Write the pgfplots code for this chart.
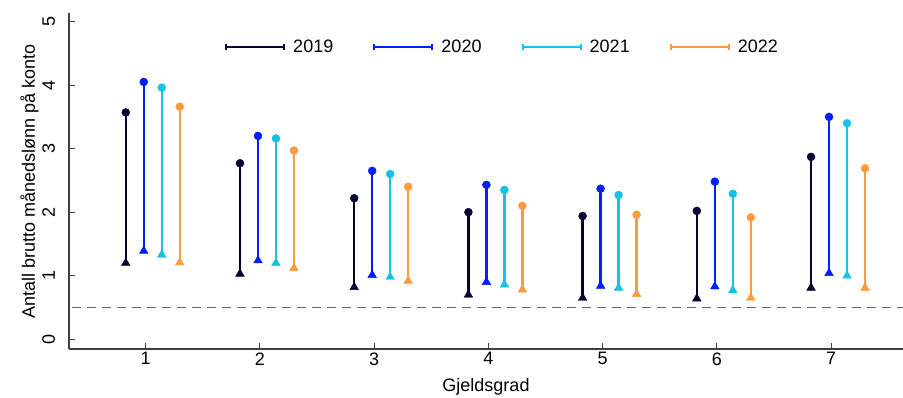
\documentclass[border=0pt]{standalone}
\usepackage{pgfplots}
\pgfplotsset{compat=1.18}
\usepackage{pgfplotstable}
\usepackage{fontspec}
\setmainfont{Liberation Sans}

\definecolor{cA}{RGB}{5,5,50}
\definecolor{cB}{RGB}{0,30,255}
\definecolor{cC}{RGB}{20,195,230}
\definecolor{cD}{RGB}{255,155,60}
\definecolor{axgray}{RGB}{64,64,64}
\definecolor{dashgray}{RGB}{100,100,100}

\pgfplotstableread{
g lo hi
1 1.20 3.57
2 1.03 2.77
3 0.82 2.22
4 0.70 2.00
5 0.65 1.94
6 0.64 2.02
7 0.81 2.87
}\tabA
\pgfplotstableread{
g lo hi
1 1.39 4.05
2 1.24 3.20
3 1.01 2.65
4 0.90 2.43
5 0.84 2.37
6 0.83 2.48
7 1.04 3.50
}\tabB
\pgfplotstableread{
g lo hi
1 1.33 3.96
2 1.20 3.16
3 0.98 2.60
4 0.86 2.35
5 0.81 2.27
6 0.77 2.29
7 1.00 3.40
}\tabC
\pgfplotstableread{
g lo hi
1 1.21 3.66
2 1.12 2.97
3 0.92 2.40
4 0.78 2.10
5 0.71 1.96
6 0.65 1.92
7 0.81 2.69
}\tabD

\begin{document}
\begin{tikzpicture}[x=1pt,y=1pt]
\useasboundingbox (0,0) rectangle (903,398);
\begin{axis}[
  at={(69pt,49pt)}, anchor=south west,
  scale only axis, width=834pt, height=335.7pt,
  xmin=0.328, xmax=7.63, ymin=-0.153, ymax=5.13,
  axis x line*=bottom, axis y line*=left,
  axis line style={-, draw=axgray, line width=1.2pt},
  xtick={1,2,3,4,5,6,7}, ytick={0,1,2,3,4,5},
  tick align=inside, major tick length=6pt,
  tick style={draw=axgray, line width=1pt},
  xtick pos=bottom, ytick pos=left,
  font=\fontsize{18}{21.6}\selectfont,
  /pgf/number format/assume math mode=true,
  yticklabel style={xshift=-14pt, rotate=90, anchor=base, inner sep=0pt},
  xlabel={Gjeldsgrad},
  xlabel style={at={(axis description cs:0.5,0)}, anchor=base, yshift=-43pt, inner sep=0pt},
  ylabel={Antall brutto månedslønn på konto},
  ylabel style={at={(axis description cs:-0.0408,0.5)}, anchor=base, inner sep=0pt},
  legend columns=4,
  legend style={at={(axis description cs:0.1871,0.8996)}, anchor=west,
    draw=none, fill=none, inner sep=0pt, outer sep=0pt,
    nodes={inner sep=0pt},
    /tikz/every odd column/.append style={column sep=8pt},
    /tikz/every even column/.append style={column sep=40pt}},
  legend image code/.code={
    \draw[#1, line width=2.2pt] (0pt,0pt) -- (58pt,0pt);
    \draw[#1, line width=1.8pt] (0pt,-2.8pt) -- (0pt,2.8pt);
    \draw[#1, line width=1.8pt] (58pt,-2.8pt) -- (58pt,2.8pt);
  },
]
\addplot[forget plot, draw=dashgray, line width=1.5pt, dash pattern=on 9pt off 6pt] coordinates {(0.354,0.5) (7.63,0.5)};

\addplot[forget plot, only marks, mark=*, mark size=4pt, color=cA,
  error bars/.cd, y dir=minus, y explicit, error mark=none,
  error bar style={line width=2.4pt, color=cA}]
  table[x expr=\thisrow{g}-0.175, y=hi, y error minus expr=\thisrow{hi}-\thisrow{lo}] {\tabA};
\addplot[forget plot, only marks, mark=triangle*, mark size=5pt, color=cA]
  table[x expr=\thisrow{g}-0.175, y=lo] {\tabA};

\addplot[forget plot, only marks, mark=*, mark size=4pt, color=cB,
  error bars/.cd, y dir=minus, y explicit, error mark=none,
  error bar style={line width=2.4pt, color=cB}]
  table[x expr=\thisrow{g}-0.0175, y=hi, y error minus expr=\thisrow{hi}-\thisrow{lo}] {\tabB};
\addplot[forget plot, only marks, mark=triangle*, mark size=5pt, color=cB]
  table[x expr=\thisrow{g}-0.0175, y=lo] {\tabB};

\addplot[forget plot, only marks, mark=*, mark size=4pt, color=cC,
  error bars/.cd, y dir=minus, y explicit, error mark=none,
  error bar style={line width=2.4pt, color=cC}]
  table[x expr=\thisrow{g}+0.14, y=hi, y error minus expr=\thisrow{hi}-\thisrow{lo}] {\tabC};
\addplot[forget plot, only marks, mark=triangle*, mark size=5pt, color=cC]
  table[x expr=\thisrow{g}+0.14, y=lo] {\tabC};

\addplot[forget plot, only marks, mark=*, mark size=4pt, color=cD,
  error bars/.cd, y dir=minus, y explicit, error mark=none,
  error bar style={line width=2.4pt, color=cD}]
  table[x expr=\thisrow{g}+0.2975, y=hi, y error minus expr=\thisrow{hi}-\thisrow{lo}] {\tabD};
\addplot[forget plot, only marks, mark=triangle*, mark size=5pt, color=cD]
  table[x expr=\thisrow{g}+0.2975, y=lo] {\tabD};

\addlegendimage{cA}\addlegendentry{2019}
\addlegendimage{cB}\addlegendentry{2020}
\addlegendimage{cC}\addlegendentry{2021}
\addlegendimage{cD}\addlegendentry{2022}
\end{axis}
\end{tikzpicture}
\end{document}
